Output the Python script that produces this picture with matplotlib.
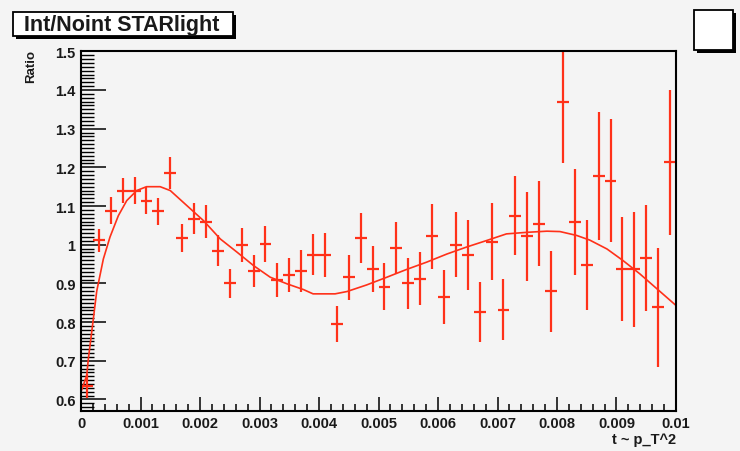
import numpy as np
import matplotlib.pyplot as plt
from matplotlib.patches import Rectangle
from matplotlib.ticker import MultipleLocator, FixedFormatter, FixedLocator

# 50 bins of t between 0 and 0.01
bin_width = 0.0002
ratio = [0.635, 1.011, 1.088, 1.140, 1.140, 1.114, 1.086, 1.186, 1.017, 1.067,
         1.060, 0.985, 0.900, 1.000, 0.933, 1.002, 0.909, 0.922, 0.933, 0.974,
         0.974, 0.795, 0.916, 1.017, 0.937, 0.892, 0.991, 0.900, 0.912, 1.022,
         0.864, 1.000, 0.974, 0.826, 1.008, 0.832, 1.075, 1.022, 1.054, 0.880,
         1.368, 1.060, 0.948, 1.177, 1.166, 0.937, 0.936, 0.965, 0.838, 1.213]
ratio_err = [0.030, 0.030, 0.035, 0.033, 0.036, 0.034, 0.035, 0.042, 0.037, 0.040,
             0.043, 0.039, 0.038, 0.044, 0.041, 0.046, 0.044, 0.044, 0.054, 0.053,
             0.057, 0.047, 0.058, 0.064, 0.060, 0.060, 0.067, 0.065, 0.068, 0.084,
             0.070, 0.084, 0.090, 0.077, 0.099, 0.079, 0.102, 0.115, 0.110, 0.105,
             0.157, 0.137, 0.116, 0.166, 0.158, 0.135, 0.148, 0.137, 0.153, 0.188]

# fit curve
fit_t = [0.0, 0.0000958, 0.000123, 0.00018, 0.000264, 0.000375, 0.000487, 0.000627,
         0.000768, 0.000936, 0.0011, 0.00133, 0.0015, 0.00178, 0.00206, 0.00234,
         0.00262, 0.0029, 0.00318, 0.00346, 0.00374, 0.0039, 0.00427, 0.00447,
         0.0048, 0.00514, 0.00547, 0.00581, 0.00615, 0.00648, 0.00682, 0.00715,
         0.00749, 0.00783, 0.00805, 0.00833, 0.00855, 0.00884, 0.00911, 0.00939,
         0.00968, 0.01]
fit_y = [0.62, 0.662, 0.705, 0.775, 0.88, 0.963, 1.02, 1.075,
         1.114, 1.140, 1.150, 1.150, 1.140, 1.101, 1.062, 1.015,
         0.981, 0.946, 0.916, 0.899, 0.884, 0.873, 0.873, 0.879,
         0.896, 0.916, 0.936, 0.955, 0.976, 0.994, 1.011, 1.028,
         1.032, 1.035, 1.034, 1.024, 1.012, 0.989, 0.959, 0.925,
         0.886, 0.843]

x_ticks = [0, 0.001, 0.002, 0.003, 0.004, 0.005, 0.006, 0.007, 0.008, 0.009, 0.01]
x_tick_labels = ["0", "0.001", "0.002", "0.003", "0.004", "0.005",
                 "0.006", "0.007", "0.008", "0.009", "0.01"]
y_ticks = [0.6, 0.7, 0.8, 0.9, 1.0, 1.1, 1.2, 1.3, 1.4, 1.5]
y_tick_labels = ["0.6", "0.7", "0.8", "0.9", "1", "1.1", "1.2", "1.3", "1.4", "1.5"]

red = '#ff3119'
bg = '#f4f4f4'
txt = '#1a1a1a'
plt.rcParams['font.family'] = ['Liberation Sans', 'DejaVu Sans']

fig = plt.figure(figsize=(7.4, 4.52), dpi=100, facecolor=bg)
ax = fig.add_axes([0.1095, 0.0892, 0.804, 0.7951], facecolor=bg)

t = bin_width / 2 + bin_width * np.arange(len(ratio))
ax.errorbar(t, ratio, yerr=ratio_err, xerr=bin_width / 2, fmt='none',
            ecolor=red, elinewidth=1.6, capsize=0)
ax.plot(fit_t, fit_y, color=red, lw=1.2)

ax.set_xlim(0, 0.01)
ax.set_ylim(0.571, 1.5)

ax.xaxis.set_major_locator(FixedLocator(x_ticks))
ax.xaxis.set_major_formatter(FixedFormatter(x_tick_labels))
ax.xaxis.set_minor_locator(MultipleLocator(0.0002))
ax.yaxis.set_major_locator(FixedLocator(y_ticks))
ax.yaxis.set_major_formatter(FixedFormatter(y_tick_labels))
ax.yaxis.set_minor_locator(MultipleLocator(0.01))

ax.tick_params(axis='x', which='major', direction='in', length=10, width=1.1,
               labelsize=10.5, pad=4)
ax.tick_params(axis='x', which='minor', direction='in', length=5, width=1.1)
ax.tick_params(axis='y', which='major', direction='in', length=18, width=1.1,
               labelsize=10.5, pad=4)
ax.tick_params(axis='y', which='minor', direction='in', length=9, width=1.0)
for lab in ax.get_xticklabels() + ax.get_yticklabels():
    lab.set_fontweight('bold')
    lab.set_color(txt)
for sp in ax.spines.values():
    sp.set_linewidth(1.5)

fig.text(676 / 740, 1 - 440 / 452, "t ~ p_T^2", ha='right', va='center',
         fontsize=10.5, fontweight='bold', color=txt)
fig.text(31 / 740, 1 - 50 / 452, "Ratio", rotation=90, ha='center', va='top',
         fontsize=9.5, fontweight='bold', color=txt)

# title box and stats box, ROOT style with shadow
W, H = 740.0, 452.0
def box(x0, y0, x1, y1, shadow=3):
    fig.patches.append(Rectangle(((x0 + shadow) / W, 1 - (y1 + shadow) / H),
                                 (x1 - x0) / W, (y1 - y0) / H, transform=fig.transFigure,
                                 facecolor='black', edgecolor='black', lw=0))
    fig.patches.append(Rectangle((x0 / W, 1 - y1 / H), (x1 - x0) / W, (y1 - y0) / H,
                                 transform=fig.transFigure, facecolor='white',
                                 edgecolor='black', lw=1.3))

box(13, 13, 233, 37)
fig.text(122 / W, 1 - 25.5 / H, "Int/Noint STARlight", ha='center', va='center',
         fontsize=15.5, fontweight='bold', color=txt)
box(694, 11, 733, 51)

fig.savefig('out.png', dpi=100, facecolor=bg)
